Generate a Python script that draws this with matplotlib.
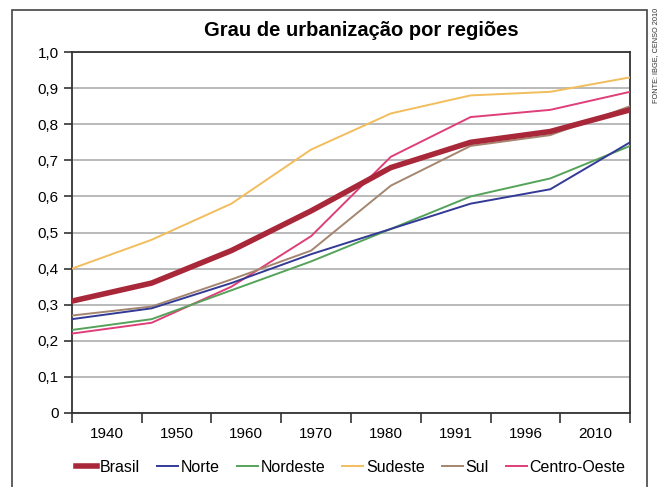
import matplotlib.pyplot as plt
import numpy as np
from matplotlib.patches import Rectangle

plt.rcParams['font.family'] = ['Liberation Sans', 'DejaVu Sans']

anos = ["1940", "1950", "1960", "1970", "1980", "1991", "1996", "2010"]
brasil = [0.31, 0.36, 0.45, 0.56, 0.68, 0.75, 0.78, 0.84]
norte = [0.26, 0.29, 0.36, 0.44, 0.51, 0.58, 0.62, 0.75]
nordeste = [0.23, 0.26, 0.34, 0.42, 0.51, 0.60, 0.65, 0.74]
sudeste = [0.40, 0.48, 0.58, 0.73, 0.83, 0.88, 0.89, 0.93]
sul = [0.27, 0.295, 0.37, 0.45, 0.63, 0.74, 0.77, 0.85]
centro_oeste = [0.22, 0.25, 0.35, 0.49, 0.71, 0.82, 0.84, 0.89]

fig = plt.figure(figsize=(6.66, 4.87), dpi=100)
ax = fig.add_axes([0.108, 0.152, 0.838, 0.741])

x = np.arange(len(anos))
ax.plot(x, sudeste, color="#f2bd5c", lw=1.4, label="Sudeste", zorder=3)
ax.plot(x, centro_oeste, color="#de3f78", lw=1.4, label="Centro-Oeste", zorder=3)
ax.plot(x, sul, color="#a48670", lw=1.4, label="Sul", zorder=3)
ax.plot(x, nordeste, color="#55a35a", lw=1.4, label="Nordeste", zorder=3)
ax.plot(x, norte, color="#333a96", lw=1.4, label="Norte", zorder=3)
ax.plot(x, brasil, color="#a8283a", lw=4, label="Brasil", zorder=4)

ax.set_xlim(0, len(anos) - 1)
ax.set_ylim(0, 1.0)
ax.set_yticks(np.arange(0, 1.01, 0.1))
ax.set_yticklabels(["0"] + [f"{v:.1f}".replace(".", ",") for v in np.arange(0.1, 1.01, 0.1)])
ax.yaxis.grid(True, color="#b4b4b4", lw=1.3)
ax.set_axisbelow(True)

# category ticks at bin edges, labels in bin centres
n = len(anos)
ax.set_xticks(np.linspace(0, n - 1, n + 1))
ax.set_xticklabels([])
ax.set_xticks(np.linspace(0, n - 1, n + 1)[:-1] + (n - 1) / n / 2, minor=True)
ax.set_xticklabels(anos, minor=True)
ax.tick_params(axis="x", which="major", length=7, width=1.2, color="#333333")
ax.tick_params(axis="x", which="minor", length=0, pad=10, labelsize=11)
ax.tick_params(axis="y", length=6, width=1.2, color="#333333", labelsize=11)

for s in ax.spines.values():
    s.set_color("#333333")
    s.set_linewidth(1.3)

fig.text(0.543, 0.937, "Grau de urbanização por regiões", ha="center", va="center",
         fontsize=14.5, fontweight="bold")

order = ["Brasil", "Norte", "Nordeste", "Sudeste", "Sul", "Centro-Oeste"]
h, l = ax.get_legend_handles_labels()
hd = dict(zip(l, h))
fig.legend([hd[k] for k in order], order, loc="center", bbox_to_anchor=(0.527, 0.04),
           ncol=6, frameon=False, fontsize=11.5, handlelength=1.3, handletextpad=0.2,
           columnspacing=1.05)

fig.text(0.985, 0.985, "FONTE: IBGE, CENSO 2010", rotation=90, ha="center", va="top",
         fontsize=5.3, color="#333333")

fig.patches.append(Rectangle((12 / 666, -0.02), 635 / 666, 1.0, transform=fig.transFigure,
                             fill=False, ec="#444444", lw=1.2))

plt.savefig("out.png")
